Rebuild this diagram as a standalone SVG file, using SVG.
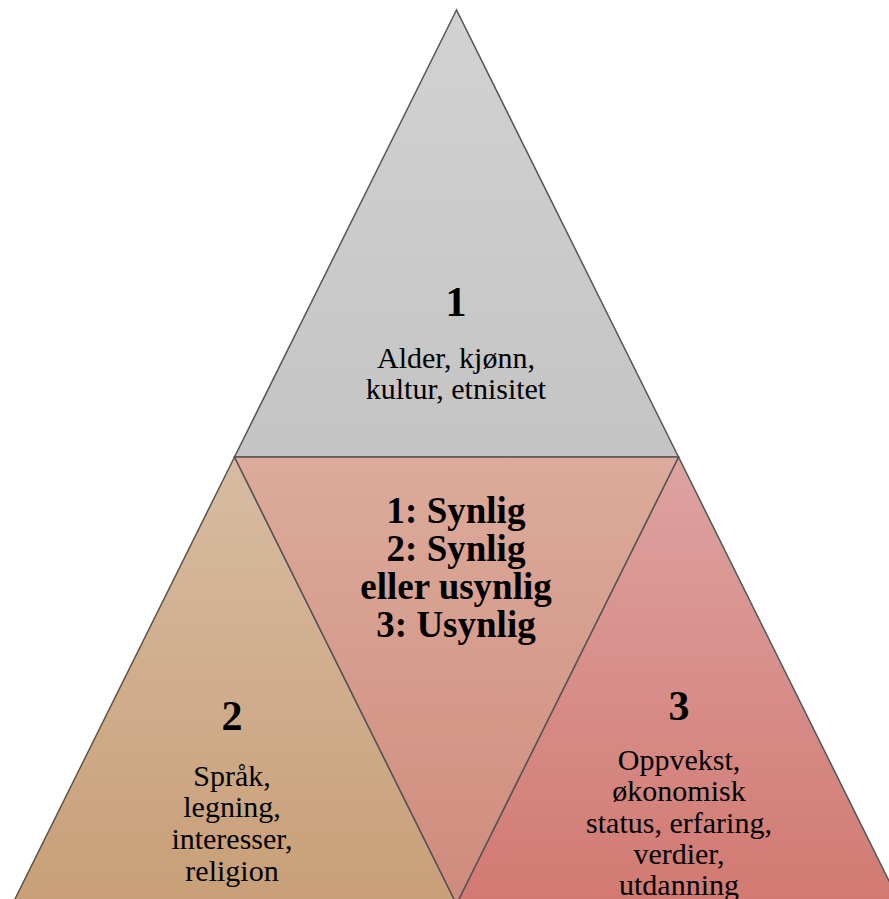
<svg xmlns="http://www.w3.org/2000/svg" width="889" height="899" viewBox="0 0 889 899">
<defs>
<linearGradient id="gTop" x1="0" y1="0" x2="0" y2="1"><stop offset="0" stop-color="#d2d2d2"/><stop offset="1" stop-color="#c4c4c4"/></linearGradient>
<linearGradient id="gLeft" x1="0" y1="0" x2="0" y2="1"><stop offset="0" stop-color="#d7bca2"/><stop offset="1" stop-color="#c89f77"/></linearGradient>
<linearGradient id="gMid" x1="0" y1="0" x2="0" y2="1"><stop offset="0" stop-color="#dcab9b"/><stop offset="1" stop-color="#cf8b7d"/></linearGradient>
<linearGradient id="gRight" x1="0" y1="0" x2="0" y2="1"><stop offset="0" stop-color="#dda3a1"/><stop offset="1" stop-color="#d27972"/></linearGradient>
<style>
.tri{stroke:#555;stroke-width:1.5;stroke-linejoin:miter}
.num{font-family:"Liberation Serif","Times New Roman",serif;font-weight:bold;font-size:42px;text-anchor:middle;fill:#000}
.lbl{font-family:"Liberation Serif","Times New Roman",serif;font-size:30px;text-anchor:middle;fill:#000}
.mid{font-family:"Liberation Serif","Times New Roman",serif;font-weight:bold;font-size:37px;text-anchor:middle;fill:#000}
</style>
</defs>
<g id="node-top">
<polygon class="tri" points="456.5,10 234.5,457 678.5,457" fill="url(#gTop)"/>
<text class="num" x="456" y="316">1</text>
<text class="lbl" x="456" y="368">Alder, kjønn,</text>
<text class="lbl" x="456" y="399">kultur, etnisitet</text>
</g>
<g id="node-left">
<polygon class="tri" points="234.5,457 12.5,904 456.5,904" fill="url(#gLeft)"/>
<text class="num" x="232" y="730">2</text>
<text class="lbl" x="232" y="786">Språk,</text>
<text class="lbl" x="232" y="817">legning,</text>
<text class="lbl" x="232" y="849">interesser,</text>
<text class="lbl" x="232" y="881">religion</text>
</g>
<g id="node-right">
<polygon class="tri" points="678.5,457 456.5,904 900.5,904" fill="url(#gRight)"/>
<text class="num" x="679" y="720">3</text>
<text class="lbl" x="679" y="770">Oppvekst,</text>
<text class="lbl" x="679" y="801">økonomisk</text>
<text class="lbl" x="679" y="833">status, erfaring,</text>
<text class="lbl" x="679" y="864">verdier,</text>
<text class="lbl" x="679" y="895">utdanning</text>
</g>
<g id="node-middle">
<polygon class="tri" points="234.5,457 678.5,457 456.5,904" fill="url(#gMid)"/>
<text class="mid" x="456" y="523">1: Synlig</text>
<text class="mid" x="456" y="561">2: Synlig</text>
<text class="mid" x="456" y="599">eller usynlig</text>
<text class="mid" x="456" y="637">3: Usynlig</text>
</g>
<g id="connectors"></g>
</svg>
